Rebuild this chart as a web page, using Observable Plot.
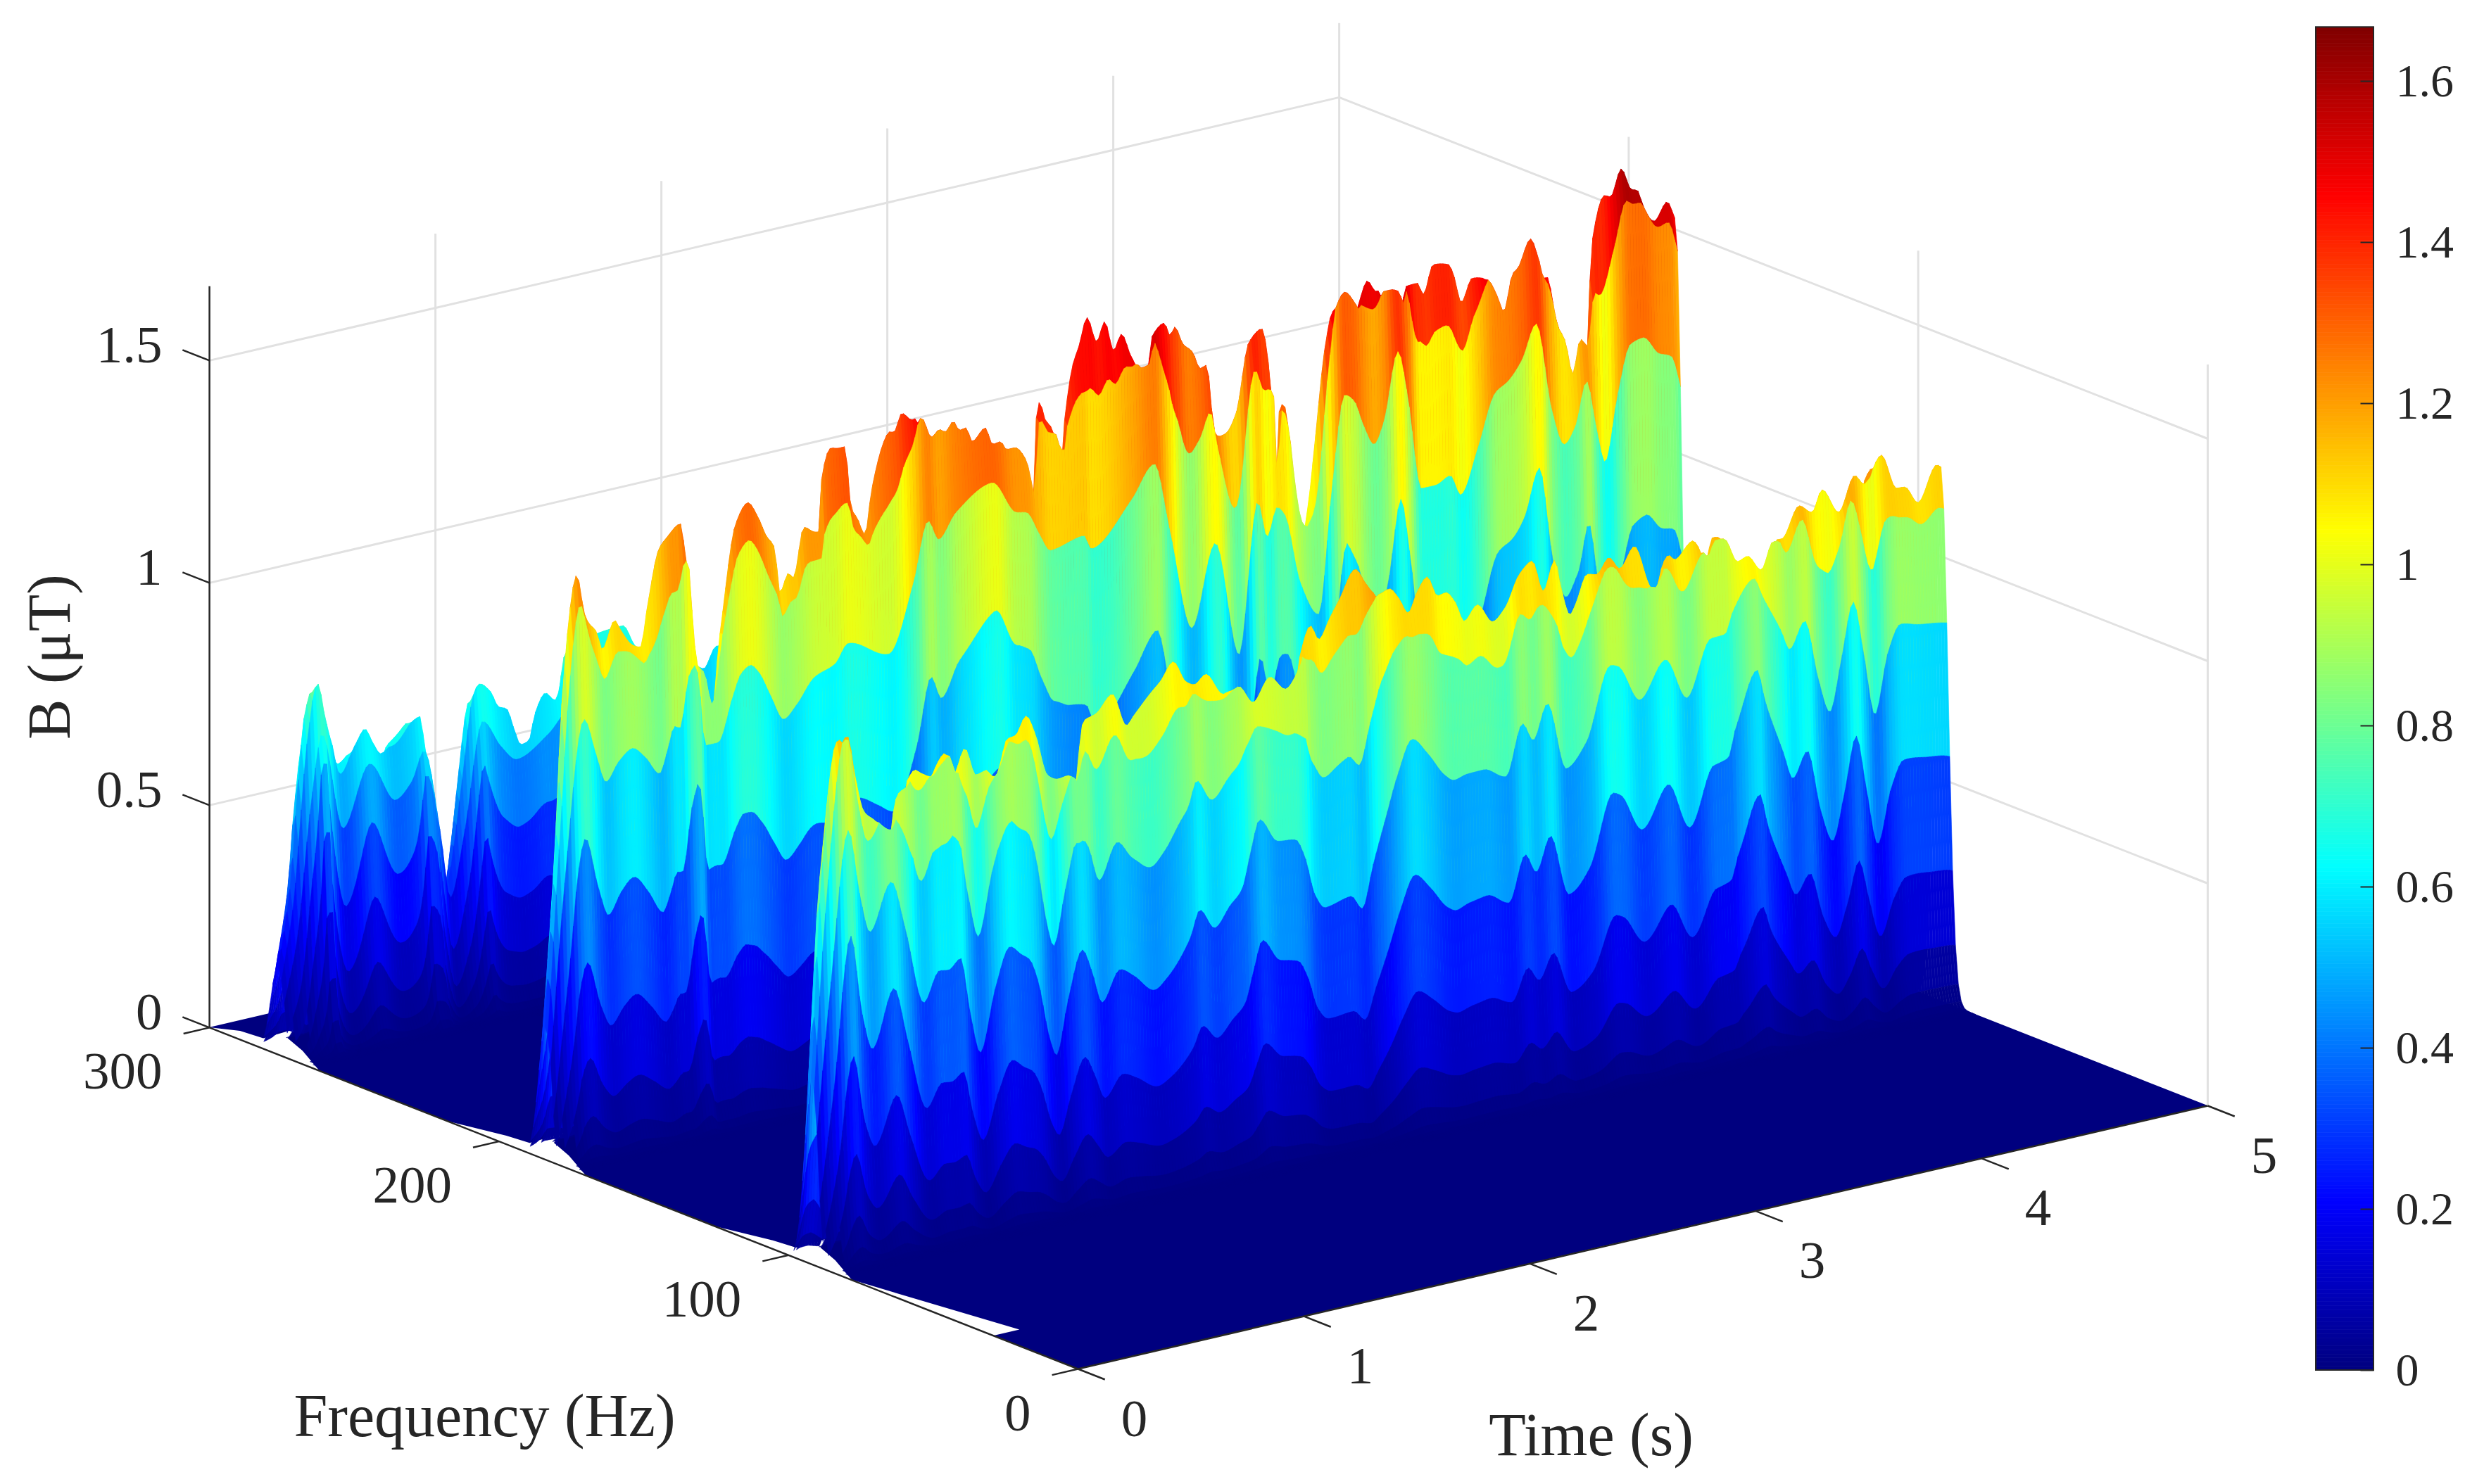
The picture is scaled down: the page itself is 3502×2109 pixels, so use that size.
<!DOCTYPE html>
<html><head><meta charset="utf-8">
<style>html,body{margin:0;padding:0;background:#fff}svg{display:block}</style>
<script src="https://cdn.jsdelivr.net/npm/d3@7"></script>
<script src="https://cdn.jsdelivr.net/npm/@observablehq/plot@0.6"></script>
</head><body><div id="chart"></div>
<script>
// ---- values: [time s, B µT] on the crest of each ridge
const ridge1Peak=[[0,.42],[.041,.835],[.065,.989],[.073,1.043],[.112,1.16],[.16,1.166],[.193,1.074],[.232,.99],[.271,.969],[.343,.938],[.383,1.011],[.423,1.023],[.47,1.052],[.5,1.041],[.533,1.033],[.604,1.074],[.645,1.025],[.692,1.074],[.741,1.009],[.788,1.014],[.812,1],[.883,1.074],[.916,1.077],[.963,1.115],[1.003,1.071],[1.058,.971],[1.106,.957],[1.153,.96],[1.178,.946],[1.218,1.074],[1.273,1.084],[1.344,1.119],[1.408,1.041],[1.439,1.059],[1.519,1.104],[1.558,1.123],[1.614,1.16],[1.67,1.109],[1.71,1.098],[1.757,1.115],[1.837,1.061],[1.891,1.074],[1.956,1.031],[2.028,1.079],[2.1,1.044],[2.156,1.08],[2.221,1.169],[2.259,1.134],[2.308,1.177],[2.35,1.213],[2.419,1.273],[2.467,1.235],[2.51,1.208],[2.558,1.215],[2.6,1.189],[2.642,1.151],[2.682,1.194],[2.725,1.222],[2.772,1.174],[2.808,1.177],[2.85,1.15],[2.89,1.103],[2.947,1.133],[3.016,1.087],[3.072,1.113],[3.134,1.18],[3.19,1.203],[3.24,1.129],[3.29,1.193],[3.315,1.135],[3.358,1.062],[3.386,1.087],[3.433,1.144],[3.477,1.139],[3.53,1.17],[3.579,1.14],[3.642,1.182],[3.72,1.082],[3.794,1.144],[3.822,1.131],[3.9,1.164],[3.956,1.126],[3.99,1.161],[4.03,1.155],[4.087,1.098],[4.13,1.105],[4.192,1.067],[4.243,1.124],[4.296,1.122],[4.371,1.187],[4.43,1.166],[4.473,1.211],[4.548,1.152],[4.617,1.226],[4.66,1.202],[4.735,1.258],[4.802,1.176],[4.84,1.174],[4.899,1.132],[4.98,1.207],[5,1.2]];
// the same ridge one contour band further down its flank
const ridge1Flank=[[0,.3],[.06,.62],[.139,.963],[.188,.815],[.234,.723],[.328,.825],[.39,.713],[.473,.536],[.541,.6],[.583,.597],[.635,.617],[.676,.494],[.723,.394],[.79,.533],[.853,.617],[.904,.594],[.941,.578],[.977,.527],[1.03,.389],[1.06,.348],[1.112,.468],[1.174,.572],[1.216,.519],[1.262,.443],[1.34,.508],[1.402,.487],[1.495,.444],[1.548,.464],[1.652,.542],[1.694,.6],[1.76,.552],[1.829,.595],[1.881,.625],[1.922,.71],[1.958,.772],[2.036,.715],[2.118,.708],[2.161,.661],[2.202,.576],[2.249,.54],[2.363,.552],[2.414,.518],[2.461,.61],[2.519,.713],[2.571,.802],[2.633,.873],[2.701,.834],[2.779,.775],[2.82,.759],[2.877,.766],[2.95,.767],[3.05,.74],[3.122,.85],[3.17,.807],[3.232,.882],[3.315,.726],[3.405,.775],[3.511,.935],[3.545,.929],[3.642,.842],[3.754,.919],[3.85,.822],[3.956,.943],[4.019,.945],[4.053,.992],[4.146,1.055],[4.184,1.011],[4.266,.924],[4.305,.877],[4.371,.933],[4.43,.798],[4.483,.715],[4.534,.829],[4.586,.95],[4.631,.832],[4.682,.685],[4.74,.819],[4.794,.876],[4.876,.866],[4.966,.859],[5,.855]];
const ridge2Peak=[[0,.298],[.057,.785],[.093,1.135],[.141,1.296],[.174,1.207],[.192,1.184],[.227,1.16],[.254,1.116],[.308,1.175],[.334,1.151],[.388,1.11],[.424,1.102],[.452,1.184],[.505,1.313],[.539,1.334],[.598,1.358],[.62,1.285],[.639,1.152],[.66,1.038],[.692,1.014],[.728,.938],[.773,1.085],[.844,1.328],[.897,1.37],[.943,1.332],[.978,1.287],[1.016,1.254],[1.04,1.151],[1.078,1.19],[1.1,1.177],[1.146,1.285],[1.19,1.27],[1.212,1.267],[1.224,1.381],[1.265,1.449],[1.299,1.445],[1.327,1.445],[1.355,1.305],[1.383,1.277],[1.417,1.237],[1.445,1.331],[1.502,1.438],[1.523,1.455],[1.545,1.452],[1.579,1.49],[1.626,1.47],[1.654,1.473],[1.698,1.425],[1.732,1.438],[1.76,1.43],[1.794,1.449],[1.822,1.426],[1.85,1.428],[1.879,1.394],[1.935,1.418],[1.969,1.377],[2.003,1.379],[2.031,1.358],[2.065,1.358],[2.115,1.326],[2.128,1.304],[2.156,1.24],[2.168,1.378],[2.19,1.443],[2.212,1.403],[2.24,1.381],[2.274,1.329],[2.287,1.327],[2.302,1.399],[2.336,1.509],[2.364,1.549],[2.399,1.608],[2.442,1.549],[2.477,1.59],[2.517,1.52],[2.551,1.553],[2.595,1.497],[2.629,1.471],[2.664,1.476],[2.685,1.53],[2.741,1.556],[2.766,1.525],[2.788,1.541],[2.822,1.5],[2.866,1.476],[2.9,1.435],[2.928,1.439],[2.963,1.285],[2.984,1.272],[3.012,1.275],[3.059,1.315],[3.115,1.467],[3.171,1.492],[3.209,1.374],[3.227,1.18],[3.255,1.312],[3.277,1.302],[3.305,1.136],[3.34,1.038],[3.361,1.027],[3.38,1.079],[3.408,1.209],[3.452,1.415],[3.492,1.51],[3.526,1.535],[3.57,1.507],[3.589,1.49],[3.639,1.544],[3.679,1.516],[3.729,1.516],[3.763,1.509],[3.791,1.478],[3.804,1.511],[3.86,1.513],[3.888,1.484],[3.931,1.546],[4,1.538],[4.022,1.511],[4.056,1.446],[4.103,1.495],[4.159,1.488],[4.202,1.446],[4.231,1.408],[4.271,1.489],[4.293,1.498],[4.349,1.557],[4.383,1.511],[4.411,1.459],[4.439,1.457],[4.464,1.381],[4.508,1.297],[4.536,1.231],[4.57,1.305],[4.604,1.286],[4.639,1.528],[4.688,1.612],[4.717,1.606],[4.763,1.663],[4.807,1.612],[4.835,1.606],[4.863,1.563],[4.91,1.528],[4.966,1.565],[5,1.525]];
const ridge2Flank=[[0,.22],[.057,.59],[.148,.976],[.2,.892],[.245,.824],[.302,.864],[.361,.886],[.419,.859],[.483,.815],[.516,.861],[.548,.913],[.573,.907],[.613,1.02],[.642,1.04],[.657,.995],[.684,.854],[.741,.854],[.807,.951],[.844,.998],[.884,1.011],[.922,.99],[.974,.931],[1.032,.872],[1.09,.899],[1.168,.951],[1.259,.97],[1.316,1.009],[1.497,.964],[1.607,1.113],[1.67,1.242],[1.717,1.195],[1.794,1.247],[1.953,1.295],[2.059,1.216],[2.106,1.21],[2.162,1.155],[2.212,1.112],[2.358,1.128],[2.393,1.094],[2.573,1.185],[2.67,1.252],[2.74,1.093],[2.838,.863],[2.941,1.042],[3.047,.778],[3.129,1.112],[3.171,1.028],[3.215,1.09],[3.249,1.069],[3.318,.908],[3.4,.828],[3.458,1.104],[3.514,1.307],[3.555,1.29],[3.597,1.229],[3.645,1.181],[3.687,1.226],[3.75,1.377],[3.791,1.277],[3.853,1.057],[3.916,1.057],[3.98,1.071],[4.028,1.022],[4.104,1.119],[4.181,1.234],[4.237,1.253],[4.299,1.294],[4.361,1.367],[4.43,1.166],[4.486,1.081],[4.536,1.117],[4.584,1.211],[4.626,1.106],[4.667,1.02],[4.723,1.166],[4.779,1.272],[4.835,1.28],[4.903,1.237],[4.96,1.223],[5,1.15]];
const ridge3Peak=[[0,.195],[.055,.389],[.081,.568],[.117,.755],[.162,.816],[.189,.747],[.224,.672],[.26,.622],[.296,.634],[.332,.665],[.368,.691],[.404,.656],[.44,.627],[.476,.638],[.529,.66],[.564,.678],[.613,.69],[.636,.603],[.672,.499],[.708,.374],[.735,.304],[.761,.377],[.798,.543],[.833,.682],[.875,.732],[.924,.71],[.96,.671],[.996,.662],[1.032,.608],[1.059,.574],[1.095,.579],[1.122,.636],[1.167,.677],[1.212,.656],[1.271,.766],[1.511,.788],[1.566,.736],[1.843,.657],[1.87,.649],[1.924,.693],[2.2,.62],[3,.62],[4,.6],[5,.6]];
const ridge3Flank=[[0,.12],[.055,.25],[.117,.55],[.167,.705],[.26,.482],[.377,.614],[.492,.519],[.564,.552],[.618,.615],[.689,.426],[.735,.27],[.798,.412],[.877,.65],[.958,.585],[1.03,.547],[1.167,.587],[1.271,.64],[1.511,.67],[1.566,.62],[1.843,.56],[1.87,.55],[1.924,.59],[2.2,.52],[3,.52],[4,.5],[5,.5]];
const ridgeFrequency=[276,184,92];
// front edge of the floor near a ridge: frequency offset (Hz) and the time (s) it starts at
const notchOffset=[-14,-1,8,12,18,33];
const notchStart=[0,.093,.142,.237,.06,0];

const timeTicks=[0,1,2,3,4,5];
const frequencyTicks=[0,100,200,300];
const bTicks=[0,.5,1,1.5];
const bTickLabels=["0","0.5","1","1.5"];
const barTicks=[0,.2,.4,.6,.8,1,1.2,1.4,1.6];
const barTickLabels=["0","0.2","0.4","0.6","0.8","1","1.2","1.4","1.6"];
const bMax=1.667;
const jetStops=[0,.125,.375,.625,.875,1];
const jetColors=["#00007f","#0000ff","#00ffff","#ffff00","#ff0000","#7f0000"];

// ---- the fixed 3-D view of the axes
const P=(t,f,z)=>[1531+321*t-4.113*f,1945-74.8*t-1.617*f-632*z];
const px=(t,f,z)=>P(t,f,z)[0], py=(t,f,z)=>P(t,f,z)[1];

// monotone cubic curve through the read values, used to draw them smoothly
function smooth(pairs){
  const xs=pairs.map(d=>d[0]),ys=pairs.map(d=>d[1]),n=xs.length;
  const s=d3.range(n-1).map(i=>(ys[i+1]-ys[i])/(xs[i+1]-xs[i]));
  const m=xs.map((_,i)=>{
    if(i===0)return s[0]; if(i===n-1)return s[n-2];
    if(s[i-1]*s[i]<=0)return 0;
    const h0=xs[i]-xs[i-1],h1=xs[i+1]-xs[i];
    return (h0+h1)*3/((2*h1+h0)/s[i-1]+(h1+2*h0)/s[i]);
  });
  const bis=d3.bisector(d=>d).right;
  return t=>{
    const i=Math.max(0,Math.min(n-2,bis(xs,t)-1)),h=xs[i+1]-xs[i],u=(t-xs[i])/h;
    const a=2*u*u*u-3*u*u+1,b=u*u*u-2*u*u+u,c=-2*u*u*u+3*u*u,d=u*u*u-u*u;
    return a*ys[i]+b*h*m[i]+c*ys[i+1]+d*h*m[i+1];
  };
}

// ---- surface facets: one flat-coloured facet per frequency row and time step
const timeGrid=d3.range(0,401).map(i=>i/80);
const rowStep=.3, rows=d3.range(-10,11);
const notch=d3.scaleLinear().domain(notchOffset).range(notchStart).clamp(true);
const facets=[];
let id=0;
[[ridge3Peak,ridge3Flank],[ridge2Peak,ridge2Flank],[ridge1Peak,ridge1Flank]].forEach(([peak,flank],r)=>{
  const B=smooth(peak),R=smooth(flank),fc=ridgeFrequency[r];
  const bLine=timeGrid.map(t=>Math.max(.001,B(t)));
  // lower rows follow the envelope of the crest, not its small ripples
  const envelope=bLine.map((_,i)=>d3.mean(bLine.slice(Math.max(0,i-8),i+9)));
  const heights=timeGrid.map((t,i)=>{
    const b=bLine[i],q=Math.max(.001,Math.min(b,R(t)));
    const U=Math.sqrt(Math.log(b/q));
    const Us=Math.sqrt(Math.max(0,Math.log(Math.max(envelope[i],q)/q)));
    const gUp=rows.filter(j=>j<=0).map(j=>Math.exp(-((U+rowStep*j)**2)));
    const top=d3.max(gUp);
    return rows.map(j=>j<0?b*Math.exp(-((U+rowStep*j)**2))/top
      :q*Math.exp(-.6*j*Us-.09*j*j));
  });
  for(let j=0;j<rows.length-1;j++){
    const f1=fc-2-rows[j],f2=fc-2-rows[j+1];
    for(let i=timeGrid.length-2;i>=0;i--){
      const v=heights[i][j+1];
      if(fc<276||f1<290){
        if(v<.03&&timeGrid[i]<notch(f2-fc))continue;
      }
      for(const k of [i,i+1]){
        const t=timeGrid[k];
        facets.push({id,v,x1:px(t,f1,heights[k][j]),y1:py(t,f1,heights[k][j]),x2:px(t,f2,heights[k][j+1]),y2:py(t,f2,heights[k][j+1])});
      }
      id++;
    }
  }
});

// floor of the surface
const floorFrequency=[0,29,29.01,...ridgeFrequency.flatMap(()=>[]),78,91,100,104,103,110,125,170,183,192,196,195,202,217,262,275,284,288,287,294,300];
const floorStart=[0,0,.114,0,.093,.142,.237,.073,.06,0,0,.093,.142,.237,.073,.06,0,0,.093,.142,.237,.073,.06,0];
const floor=floorFrequency.map((f,i)=>({x1:px(floorStart[i],f,0),y1:py(floorStart[i],f,0),x2:px(5,f,0),y2:py(5,f,0)}));

const seg=(a,b)=>({x1:px(...a),y1:py(...a),x2:px(...b),y2:py(...b)});
const grid=[
  ...timeTicks.slice(1).map(t=>seg([t,300,0],[t,300,bMax])),
  ...[0,100,200].map(f=>seg([5,f,0],[5,f,bMax])),
  ...bTicks.slice(1).map(z=>seg([0,300,z],[5,300,z])),
  ...bTicks.slice(1).map(z=>seg([5,300,z],[5,0,z]))
];
const axes=[seg([0,0,0],[5,0,0]),seg([0,0,0],[0,300,0]),seg([0,300,0],[0,300,bMax]),
  ...timeTicks.map(t=>seg([t,0,0],[t,-9.3,0])),
  ...frequencyTicks.map(f=>seg([0,f,0],[-.115,f,0])),
  ...bTicks.map(z=>seg([0,300,z],[0,309.3,z]))];

const barY=z=>1947-1145*z;
const barSlices=d3.range(0,334).map(i=>{const z=i*bMax/334;return {z:z+bMax/668,y1:barY(z),y2:barY(z+bMax/334)}});
const serif="Liberation Serif",ink="#262626";

const chart=Plot.plot({
  width:3502,height:2109,margin:0,
  style:{background:"#fff",fontFamily:serif},
  x:{domain:[0,3502],range:[0,3502],axis:null},
  y:{domain:[0,2109],range:[0,2109],axis:null},
  color:{type:"linear",domain:jetStops.map(s=>s*bMax),range:jetColors},
  marks:[
    Plot.link(grid,{x1:"x1",y1:"y1",x2:"x2",y2:"y2",stroke:"#e1e1e1",strokeWidth:3}),
    Plot.area(floor,{x1:"x1",y1:"y1",x2:"x2",y2:"y2",fill:()=>0}),
    Plot.area(facets,{x1:"x1",y1:"y1",x2:"x2",y2:"y2",z:"id",fill:"v",stroke:"v",strokeWidth:.6}),
    Plot.link(axes,{x1:"x1",y1:"y1",x2:"x2",y2:"y2",stroke:ink,strokeWidth:2.5}),
    // axis numbers
    Plot.text(timeTicks,{x:t=>px(t,0,0)+80,y:t=>py(t,0,0)+71,text:t=>String(t),fontSize:75,fill:ink}),
    Plot.text(frequencyTicks,{x:f=>px(0,f,0)-67,y:f=>py(0,f,0)+63,text:f=>String(f),textAnchor:"end",fontSize:75,fill:ink}),
    Plot.text(bTicks,{x:()=>230,y:z=>py(0,300,z)-21,text:(z,i)=>bTickLabels[i],textAnchor:"end",fontSize:75,fill:ink}),
    // axis titles
    Plot.text(["Frequency (Hz)"],{x:()=>688,y:()=>2013,text:d=>d,fontSize:86,fill:ink}),
    Plot.text(["Time (s)"],{x:()=>2260,y:()=>2040,text:d=>d,fontSize:86,fill:ink}),
    Plot.text(["B (μT)"],{x:()=>71,y:()=>933,text:d=>d,rotate:-90,fontSize:86,fill:ink}),
    // colour bar
    Plot.rect(barSlices,{x1:()=>3290,x2:()=>3372,y1:"y1",y2:"y2",fill:"z",stroke:"z",strokeWidth:.6}),
    Plot.rect([0],{x1:()=>3290,x2:()=>3372,y1:()=>barY(bMax),y2:()=>barY(0),fill:"none",stroke:ink,strokeWidth:2}),
    Plot.link(barTicks,{x1:()=>3353,x2:()=>3372,y1:z=>barY(z),y2:z=>barY(z),stroke:ink,strokeWidth:2}),
    Plot.text(barTicks,{x:()=>3403,y:z=>barY(z),text:(z,i)=>barTickLabels[i],textAnchor:"start",fontSize:66,fill:ink})
  ]
});
document.getElementById("chart").appendChild(chart);
</script></body></html>
